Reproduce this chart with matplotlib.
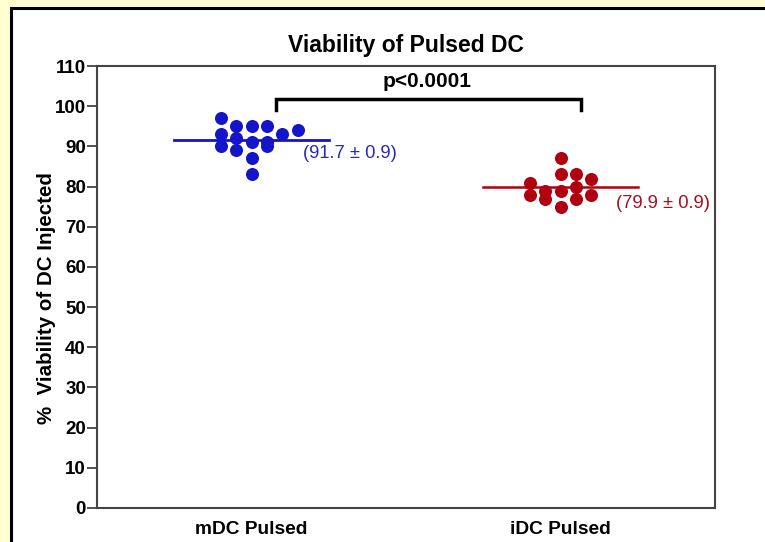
import matplotlib
matplotlib.use("Agg")
import matplotlib.pyplot as plt
from matplotlib.patches import Rectangle
from matplotlib import font_manager

# pick a narrow sans if there is one
names = [f.name for f in font_manager.fontManager.ttflist]
if "Liberation Sans Narrow" in names:
    plt.rcParams['font.family'] = ['Liberation Sans Narrow', 'DejaVu Sans']
else:
    plt.rcParams['font.family'] = ['Liberation Sans', 'DejaVu Sans']

# data
groups = ["mDC Pulsed", "iDC Pulsed"]
mdc_values = [97, 93, 90, 95, 92, 89, 95, 91, 87, 83, 95, 91, 90, 93, 94]
mdc_slots = [-2, -2, -2, -1, -1, -1, 0, 0, 0, 0, 1, 1, 1, 2, 3]
idc_values = [81, 78, 79, 77, 87, 83, 79, 75, 83, 80, 77, 82, 78]
idc_slots = [-2, -2, -1, -1, 0, 0, 0, 0, 1, 1, 1, 2, 2]
means = [91.7, 79.9]
sems = [0.9, 0.9]
p_text = "p<0.0001"

blue = "#1414c8"
red = "#b0000f"
spacing = 0.05

fig = plt.figure(figsize=(7.65, 5.42), dpi=100)
fig.patch.set_facecolor("#ffffd2")
# white panel with black border (runs off the right and bottom)
fig.patches.append(Rectangle((11/765, -0.1), 1.2, 1.1 - 8/542, transform=fig.transFigure,
                             facecolor="white", edgecolor="black", linewidth=2.2, zorder=-10))

ax = fig.add_axes([97/765, 34/542, 618/765, 442/542])
ax.set_facecolor("white")

ax.scatter([s*spacing for s in mdc_slots], mdc_values, s=88, color=blue, zorder=3, linewidths=0)
ax.scatter([1 + s*spacing for s in idc_slots], idc_values, s=88, color=red, zorder=3, linewidths=0)

# mean lines
ax.plot([-0.25, 0.25], [means[0], means[0]], color=blue, lw=2, zorder=2)
ax.plot([0.75, 1.25], [means[1], means[1]], color=red, lw=1.8, zorder=2)

ax.text(0.168, means[0] - 3.6, "(%.1f ± %.1f)" % (means[0], sems[0]), color="#2a2ab0",
        fontsize=13.2, va="center", ha="left")
ax.text(1.18, means[1] - 4.0, "(%.1f ± %.1f)" % (means[1], sems[1]), color="#a01020",
        fontsize=13.2, va="center", ha="left")

# significance bracket
ax.plot([0.08, 0.08, 1.065, 1.065], [99, 101.8, 101.8, 99], color="black", lw=2.5,
        solid_joinstyle="miter", clip_on=False)
ax.text(0.568, 106.2, p_text, ha="center", va="center", fontsize=15, fontweight="bold")

ax.set_xlim(-0.5, 1.5)
ax.set_ylim(0, 110)
ax.set_yticks(range(0, 111, 10))
ax.set_xticks([0, 1])
ax.set_xticklabels(groups, fontsize=13.8, fontweight="bold")
for lab in ax.get_yticklabels():
    lab.set_fontweight("bold")
    lab.set_fontsize(13.5)
ax.tick_params(axis="y", length=7, width=1.3, color="#444444", pad=1)
ax.tick_params(axis="x", length=0, pad=9)
for sp in ax.spines.values():
    sp.set_color("#444444")
    sp.set_linewidth(1.5)

ax.set_ylabel("%  Viability of DC Injected", fontsize=14.8, fontweight="bold")
ax.yaxis.set_label_coords(-0.066, 0.475)
ax.set_title("Viability of Pulsed DC", fontsize=16.5, fontweight="bold", pad=10)

plt.savefig("out.png", dpi=100, facecolor=fig.get_facecolor())
